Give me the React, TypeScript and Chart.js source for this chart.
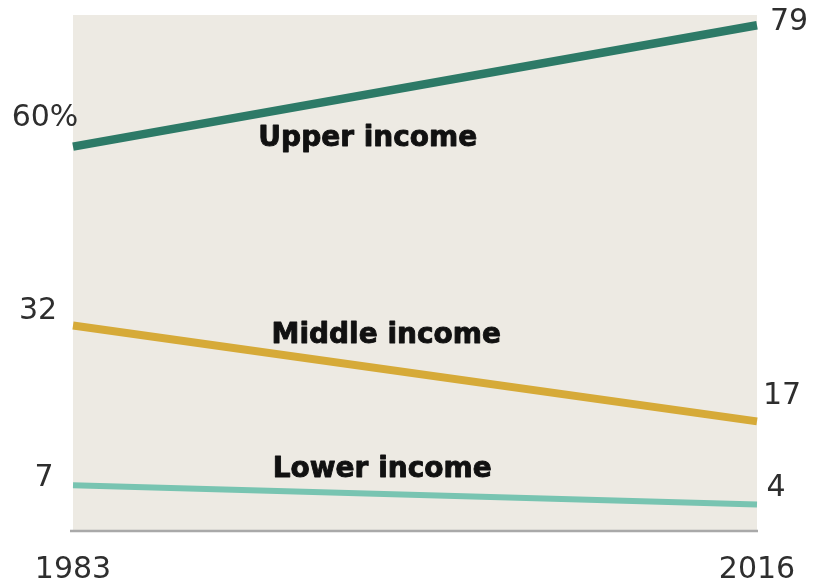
import React, { useEffect, useRef } from "react";
import { Chart, registerables } from "chart.js";

Chart.register(...registerables);

const years = ["1983", "2016"];
const seriesNames = ["Upper income", "Middle income", "Lower income"];
const upperIncome = [60, 79];
const middleIncome = [32, 17];
const lowerIncome = [7, 4];

const COLORS = ["#2d7a67", "#d6aa38", "#78c4b1"];
const WIDTHS = [8.5, 8, 6];
const NUM_FONT = "30px 'DejaVu Sans', sans-serif";
const NAME_FONT = "bold 28px 'DejaVu Sans', sans-serif";
const TEXT_COLOR = "#2e2e2e";

// pixel offsets (styling) for the annotation texts relative to line endpoints
const startOffsets = [
  { dx: -28, dy: -28 },
  { dx: -35, dy: -14 },
  { dx: -29, dy: -7 },
];
const endOffsets = [
  { dx: 32, dy: -3 },
  { dx: 25, dy: -25 },
  { dx: 19, dy: -16 },
];
// name label anchor: fraction along the line, vertical offset from line (px)
const nameAnchors = [
  { frac: 0.431, dy: 44 },
  { frac: 0.458, dy: -34 },
  { frac: 0.452, dy: -24 },
];

const annotatePlugin = {
  id: "annotate",
  beforeDraw(chart: any) {
    const { ctx, chartArea } = chart;
    ctx.save();
    ctx.fillStyle = "#edeae3";
    ctx.fillRect(chartArea.left, chartArea.top, chartArea.right - chartArea.left, chartArea.bottom - chartArea.top);
    ctx.strokeStyle = "#a9a9a9";
    ctx.lineWidth = 2.5;
    ctx.beginPath();
    ctx.moveTo(chartArea.left - 3, chartArea.bottom + 1);
    ctx.lineTo(chartArea.right + 1, chartArea.bottom + 1);
    ctx.stroke();
    ctx.restore();
  },
  afterDatasetsDraw(chart: any) {
    const { ctx, chartArea } = chart;
    const xs = chart.scales.x;
    const ys = chart.scales.y;
    ctx.save();
    ctx.fillStyle = TEXT_COLOR;
    ctx.textAlign = "center";
    ctx.textBaseline = "middle";
    ctx.font = NUM_FONT;
    chart.data.datasets.forEach((ds: any, i: number) => {
      const v0 = ds.data[0];
      const v1 = ds.data[ds.data.length - 1];
      const x0 = xs.getPixelForValue(0);
      const x1 = xs.getPixelForValue(ds.data.length - 1);
      const y0 = ys.getPixelForValue(v0);
      const y1 = ys.getPixelForValue(v1);
      ctx.fillText(i === 0 ? `${v0}%` : `${v0}`, x0 + startOffsets[i].dx, y0 + startOffsets[i].dy);
      ctx.fillText(`${v1}`, x1 + endOffsets[i].dx, y1 + endOffsets[i].dy);
    });
    // series names
    ctx.font = NAME_FONT;
    ctx.fillStyle = "#111";
    ctx.strokeStyle = "#111";
    ctx.lineWidth = 0.9;
    ctx.lineJoin = "round";
    chart.data.datasets.forEach((ds: any, i: number) => {
      const f = nameAnchors[i].frac;
      const x = chartArea.left + f * (chartArea.right - chartArea.left);
      const v = ds.data[0] + (ds.data[1] - ds.data[0]) * f;
      const ly = ys.getPixelForValue(v);
      ctx.fillText(seriesNames[i], x, ly + nameAnchors[i].dy);
      ctx.strokeText(seriesNames[i], x, ly + nameAnchors[i].dy);
    });
    // x-axis year labels
    ctx.font = NUM_FONT;
    ctx.fillStyle = TEXT_COLOR;
    ctx.textBaseline = "alphabetic";
    years.forEach((yr, idx) => {
      ctx.fillText(yr, xs.getPixelForValue(idx), chartArea.bottom + 48);
    });
    ctx.restore();
  },
};

export default function App() {
  const ref = useRef<HTMLCanvasElement | null>(null);
  useEffect(() => {
    if (!ref.current) return;
    const chart = new Chart(ref.current, {
      type: "line",
      data: {
        labels: years,
        datasets: [upperIncome, middleIncome, lowerIncome].map((d, i) => ({
          label: seriesNames[i],
          data: d,
          borderColor: COLORS[i],
          borderWidth: WIDTHS[i],
          pointRadius: 0,
          fill: false,
          tension: 0,
          borderCapStyle: "butt" as const,
        })),
      },
      options: {
        animation: false,
        responsive: false,
        maintainAspectRatio: false,
        layout: { padding: { left: 73, right: 58, top: 15, bottom: 52 } },
        plugins: { legend: { display: false }, tooltip: { enabled: false } },
        scales: {
          x: { display: false, offset: false },
          y: { display: false, min: 0, max: 80.6 },
        },
      },
      plugins: [annotatePlugin],
    });
    return () => chart.destroy();
  }, []);
  return (
    <div style={{ position: "fixed", left: 0, top: 0, width: 815, height: 582, background: "#fff" }}>
      <canvas ref={ref} width={815} height={582} style={{ width: 815, height: 582 }} />
    </div>
  );
}
